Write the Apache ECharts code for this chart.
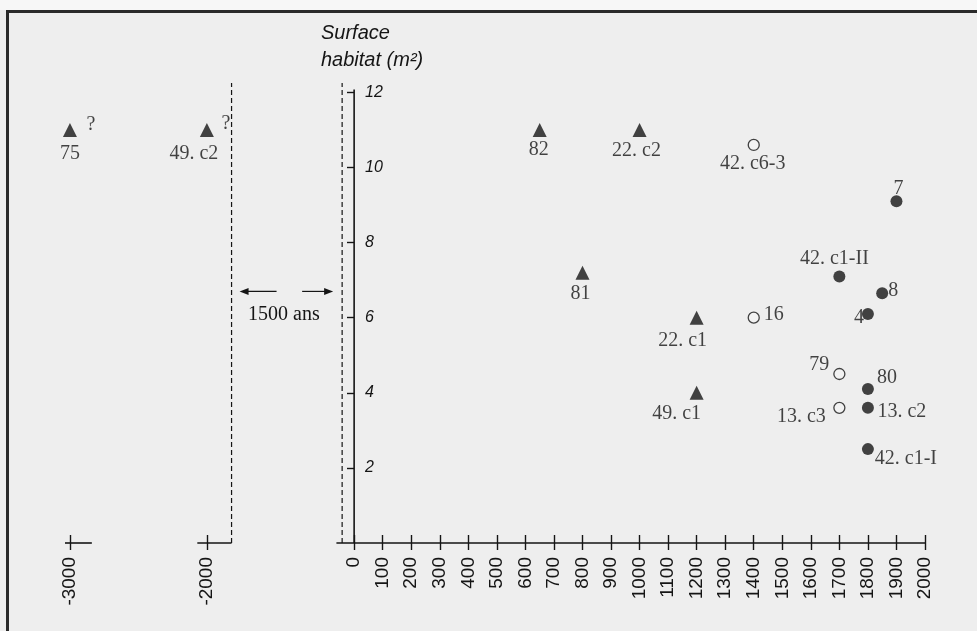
<!DOCTYPE html>
<html>
<head>
<meta charset="utf-8">
<script src="https://cdn.jsdelivr.net/npm/echarts@6/dist/echarts.min.js"></script>
<style>
  html, body { margin: 0; padding: 0; background: #eeeeee; }
  #chart { width: 977px; height: 631px; }
</style>
</head>
<body>
<div id="chart"></div>
<script>
// Dwelling floor area (m²) against date (years), by house / layer.

// Early houses, on the compressed left-hand segment of the time axis
const earlyNames = ['75', '49. c2'];
const earlyYears = [-3000, -2000];
const earlyArea = [11, 11];

// Triangles on the main time axis
const triNames = ['82', '22. c2', '81', '22. c1', '49. c1'];
const triYears = [650, 1000, 800, 1200, 1200];
const triArea = [11, 11, 7.2, 6.0, 4.0];

// Filled circles
const dotNames = ['7', '42. c1-II', '8', '4', '80', '13. c2', '42. c1-I'];
const dotYears = [1900, 1700, 1850, 1800, 1800, 1800, 1800];
const dotArea = [9.1, 7.1, 6.65, 6.1, 4.1, 3.6, 2.5];

// Open circles
const ringNames = ['42. c6-3', '16', '79', '13. c3'];
const ringYears = [1400, 1400, 1700, 1700];
const ringArea = [10.6, 6.0, 4.5, 3.6];

// Axis ticks
const yearTicks = [0, 100, 200, 300, 400, 500, 600, 700, 800, 900, 1000,
                   1100, 1200, 1300, 1400, 1500, 1600, 1700, 1800, 1900, 2000];
const earlyTicks = [-3000, -2000];
const areaTicks = [2, 4, 6, 8, 10, 12];

// Break of the time axis
const gapText = '1500 ans';
const uncertainMark = '?';

const INK = '#151515';
const SERIF = '"Liberation Serif", "DejaVu Serif", serif';
const SANS = '"Liberation Sans", Arial, sans-serif';

// Where each name sits around its marker (pixel offset of the label centre)
const labelOffset = {
  '75': [0, 24], '49. c2': [-13, 24],
  '82': [-1, 20], '22. c2': [-3, 21], '81': [-2, 21],
  '22. c1': [-14, 23], '49. c1': [-20, 21],
  '42. c6-3': [-1, 19], '16': [20, -3], '79': [-20, -9], '13. c3': [-38, 9],
  '7': [2, -13], '42. c1-II': [-5, -18], '8': [11, -3], '4': [-9, 4],
  '80': [19, -11], '13. c2': [34, 4], '42. c1-I': [38, 10]
};

function points(names, xs, ys) {
  return names.map((n, i) => ({
    name: n,
    value: [xs[i], ys[i]],
    label: { offset: labelOffset[n] || [0, 0] }
  }));
}

const nameLabel = {
  show: true,
  position: 'inside',
  formatter: '{b}',
  color: INK,
  fontFamily: SERIF,
  fontSize: 20,
  textBorderWidth: 0
};

// Shared vertical scale; the top reaches a little above 12 for the dashed limits
const yMin = 0, yTop = 12.25, yAxisEnd = 12.08;
// Horizontal extents of the two time segments
const mainMin = -60, mainMax = 2000;
const earlyMin = -3036, earlyMax = -1800;
const breakLeft = -1820;   // dashed limit after the early segment
const breakRight = -42;    // dashed limit before year 0

const tickLine = { color: INK, width: 1.4 };

function yearAxis(grid, min, max, outside, ticks, showLine) {
  return {
    type: 'value', gridIndex: grid, min: min, max: max,
    position: 'bottom',
    axisLine: { show: outside && showLine, lineStyle: { color: INK, width: 1.6 } },
    axisTick: { show: true, inside: !outside, length: outside ? 7 : 8, lineStyle: tickLine, customValues: ticks },
    axisLabel: {
      show: outside, rotate: 90, margin: 14, color: INK,
      fontFamily: SANS, fontSize: 19, customValues: ticks,
      formatter: v => String(v)
    },
    splitLine: { show: false }
  };
}

const decoLine = (xIndex, yIndex, data, dashed) => ({
  type: 'line', xAxisIndex: xIndex, yAxisIndex: yIndex, data: data,
  symbol: 'none', clip: false, silent: true, z: 1,
  lineStyle: { color: INK, width: dashed ? 1.2 : 1.6, type: dashed ? [5, 3] : 'solid' }
});

const option = {
  backgroundColor: '#eeeeee',
  animation: false,
  title: {
    text: 'Surface\nhabitat (m²)',
    left: 316, top: 15,
    textStyle: {
      fontFamily: SANS, fontStyle: 'italic', fontWeight: 'normal',
      fontSize: 20, lineHeight: 27, color: INK
    }
  },
  grid: [
    { left: 337, right: 52, top: 83, bottom: 88 },   // main time segment
    { left: 65, width: 169.3, top: 83, bottom: 88 }, // early segment
    { left: 354, right: 52, top: 83, bottom: 88 }    // area axis, starting at year 0
  ],
  xAxis: [
    yearAxis(0, mainMin, mainMax, true, yearTicks, true),
    yearAxis(0, mainMin, mainMax, false, yearTicks, false),
    yearAxis(1, earlyMin, earlyMax, true, earlyTicks, false),
    yearAxis(1, earlyMin, earlyMax, false, earlyTicks, false),
    { type: 'value', gridIndex: 2, min: 0, max: mainMax, show: false }
  ],
  yAxis: [
    { type: 'value', gridIndex: 0, min: yMin, max: yTop, show: false },
    { type: 'value', gridIndex: 1, min: yMin, max: yTop, show: false },
    {
      type: 'value', gridIndex: 2, min: yMin, max: yTop, position: 'left',
      axisLine: { show: false },
      axisTick: { show: true, inside: false, length: 7, lineStyle: tickLine, customValues: areaTicks },
      axisLabel: {
        inside: true, margin: 11, color: INK, fontFamily: SANS,
        fontStyle: 'italic', fontSize: 16, customValues: areaTicks
      },
      splitLine: { show: false }
    }
  ],
  series: [
    // Area axis line (drawn at year 0)
    decoLine(0, 0, [[0, 0], [0, yAxisEnd]], false),
    // Time-axis pieces around the breaks
    decoLine(2, 1, [[earlyMin, 0], [-2840, 0]], false),
    decoLine(2, 1, [[-2070, 0], [breakLeft, 0]], false),
    decoLine(2, 1, [[breakLeft, 0], [breakLeft, yTop]], true),
    decoLine(0, 0, [[breakRight, 0], [breakRight, yTop]], true),
    {
      type: 'scatter', xAxisIndex: 2, yAxisIndex: 1,
      symbol: 'triangle', symbolSize: 14,
      itemStyle: { color: INK },
      label: nameLabel,
      data: points(earlyNames, earlyYears, earlyArea)
    },
    {
      // uncertainty marks beside the early houses
      type: 'scatter', xAxisIndex: 2, yAxisIndex: 1,
      symbol: 'circle', symbolSize: 1, silent: true,
      itemStyle: { color: 'rgba(0,0,0,0)' },
      label: Object.assign({}, nameLabel, { formatter: uncertainMark }),
      data: earlyNames.map((n, i) => ({
        name: n, value: [earlyYears[i], earlyArea[i]],
        label: { offset: i === 0 ? [21, -5] : [19, -6] }
      }))
    },
    {
      type: 'scatter', xAxisIndex: 0, yAxisIndex: 0,
      symbol: 'triangle', symbolSize: 14,
      itemStyle: { color: INK },
      label: nameLabel,
      data: points(triNames, triYears, triArea)
    },
    {
      type: 'scatter', xAxisIndex: 0, yAxisIndex: 0,
      symbol: 'circle', symbolSize: 12,
      itemStyle: { color: INK },
      label: nameLabel,
      data: points(dotNames, dotYears, dotArea)
    },
    {
      type: 'scatter', xAxisIndex: 0, yAxisIndex: 0,
      symbol: 'circle', symbolSize: 11,
      itemStyle: { color: '#f2f2f2', borderColor: INK, borderWidth: 1.3 },
      label: nameLabel,
      data: points(ringNames, ringYears, ringArea)
    }
  ]
};

const chart = echarts.init(document.getElementById('chart'));
chart.setOption(option);

// Double-headed span between the two dashed limits, with its caption
const arrowY = 6.7, captionY = 6.07;
const [lx, ay] = chart.convertToPixel({ xAxisIndex: 2, yAxisIndex: 1 }, [breakLeft, arrowY]);
const [rx, cy] = chart.convertToPixel({ xAxisIndex: 0, yAxisIndex: 0 }, [breakRight, captionY]);
const head = (tipX, dir) => ({
  type: 'polygon',
  shape: { points: [[tipX, ay], [tipX + dir * 9, ay - 3.5], [tipX + dir * 9, ay + 3.5]] },
  style: { fill: INK }
});
chart.setOption({
  graphic: [
    // page frame
    { type: 'rect', shape: { x: 0, y: 0, width: 977, height: 10 }, style: { fill: '#f7f7f7' } },
    { type: 'rect', shape: { x: 6, y: 10, width: 971, height: 3 }, style: { fill: '#2a2a2a' } },
    { type: 'rect', shape: { x: 6, y: 10, width: 3, height: 621 }, style: { fill: '#2a2a2a' } },
    { type: 'line', shape: { x1: lx + 45, y1: ay, x2: lx + 12, y2: ay }, style: { stroke: INK, lineWidth: 1.2 } },
    head(lx + 8, 1),
    { type: 'line', shape: { x1: rx - 40, y1: ay, x2: rx - 13, y2: ay }, style: { stroke: INK, lineWidth: 1.2 } },
    head(rx - 9, -1),
    {
      type: 'text',
      style: {
        text: gapText, x: (lx + rx) / 2 - 3, y: cy, align: 'center', verticalAlign: 'middle',
        font: '20px "Liberation Serif", serif', fill: INK
      }
    }
  ]
});
</script>
</body>
</html>
